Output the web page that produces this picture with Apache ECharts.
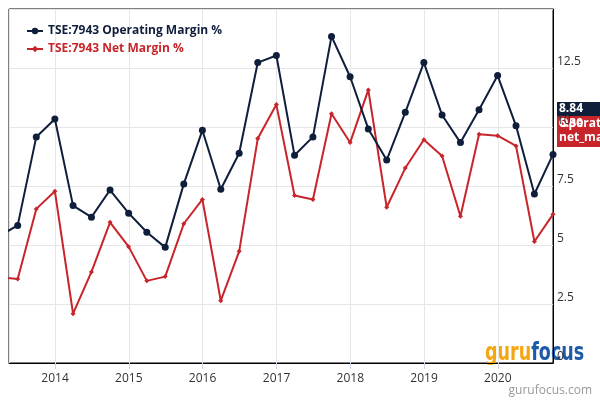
<!DOCTYPE html>
<html><head><meta charset="utf-8">
<script src="https://cdn.jsdelivr.net/npm/echarts@6/dist/echarts.min.js"></script>
<style>html,body{margin:0;padding:0;background:#fff}#c{width:600px;height:400px}</style>
</head><body><div id="c"></div>
<script>
const dates = ['2013-03-31','2013-06-30','2013-09-30','2013-12-31',
'2014-03-31','2014-06-30','2014-09-30','2014-12-31',
'2015-03-31','2015-06-30','2015-09-30','2015-12-31',
'2016-03-31','2016-06-30','2016-09-30','2016-12-31',
'2017-03-31','2017-06-30','2017-09-30','2017-12-31',
'2018-03-31','2018-06-30','2018-09-30','2018-12-31',
'2019-03-31','2019-06-30','2019-09-30','2019-12-31',
'2020-03-31','2020-06-30','2020-09-30'];
const operatingMargin = [5.38,5.83,9.58,10.34,6.67,6.18,7.33,6.35,5.54,4.90,7.59,9.86,7.36,8.89,12.73,13.03,8.80,9.58,13.84,12.13,9.92,8.60,10.62,12.73,10.51,9.34,10.73,12.18,10.05,7.16,8.84];
const netMargin = [3.63,3.56,6.53,7.28,2.09,3.86,5.96,4.93,3.48,3.66,5.90,6.93,2.64,4.73,9.51,10.95,7.10,6.93,10.56,9.34,11.57,6.60,8.26,9.46,8.77,6.22,9.69,9.63,9.20,5.15,6.30];
const seriesNames = ['TSE:7943 Operating Margin %','TSE:7943 Net Margin %'];
const endTags = ['Operating','net_margin'];

const opColor = '#0e1e3b', netColor = '#c7252a';
const chart = echarts.init(document.getElementById('c'));
const pair = (vals) => dates.map((d,i)=>[d, vals[i]]);
const DAY = 24*3600*1000;
chart.setOption({
  animation:false,
  textStyle:{fontFamily:'Open Sans, sans-serif'},
  grid:{left:9,right:47,top:9,bottom:37,show:true,borderColor:'#000',borderWidth:1,backgroundColor:'transparent'},
  legend:{orient:'vertical',left:21,top:20,itemWidth:16,itemHeight:8,itemGap:6,
    textStyle:{fontWeight:'bold',fontSize:12,fontFamily:'Open Sans, sans-serif'},
    data:[{name:seriesNames[0],textStyle:{color:opColor}},{name:seriesNames[1],textStyle:{color:netColor}}]},
  xAxis:{type:'time',min:'2013-05-18',max:'2020-09-30',minInterval:365*DAY,maxInterval:366*DAY,
    axisLine:{lineStyle:{color:'#000',width:1}},
    axisTick:{show:true,length:6,lineStyle:{color:'#ccd6eb'}},
    splitLine:{show:true,lineStyle:{color:'#e6e6e6'}},
    axisLabel:{color:'#333',fontSize:12,margin:10,formatter:'{yyyy}',hideOverlap:false}},
  yAxis:{type:'value',position:'right',min:0,max:15,interval:2.5,
    axisLine:{show:true,lineStyle:{color:'#000'}},axisTick:{show:false},
    splitLine:{lineStyle:{color:'#e6e6e6'}},
    axisLabel:{color:'#333',fontSize:12,margin:4,verticalAlign:'bottom',showMaxLabel:false}},
  series:[
    {name:seriesNames[1],type:'line',data:pair(netMargin),color:netColor,lineStyle:{width:2},
      symbol:'diamond',symbolSize:5,showAllSymbol:true,z:2},
    {name:seriesNames[0],type:'line',data:pair(operatingMargin),color:opColor,lineStyle:{width:2},
      symbol:'circle',symbolSize:7,showAllSymbol:true,z:3}
  ],
  graphic:[
    {type:'rect',left:557,top:102,shape:{width:50,height:14},style:{fill:opColor}},
    {type:'text',left:559,top:103,style:{text:operatingMargin[operatingMargin.length-1].toFixed(2),fill:'#fff',font:'bold 12px Open Sans'}},
    {type:'rect',left:557,top:116,shape:{width:50,height:31},style:{fill:netColor}},
    {type:'text',left:559,top:118,style:{text:netMargin[netMargin.length-1].toFixed(2),fill:'#fff',font:'bold 12px Open Sans'}},
    {type:'text',left:559,top:118,style:{text:endTags[0],fill:'#fff',font:'bold 12px Open Sans'}},
    {type:'text',left:559,top:132,style:{text:endTags[1],fill:'#fff',font:'bold 12px Open Sans'}},
    {type:'text',x:485,y:341,scaleX:0.78,style:{text:'{a|guru}{b|focus}',rich:{a:{fill:'#f5a711',fontSize:25,fontWeight:'bold',fontFamily:'DejaVu Sans Condensed'},b:{fill:'#1f5aa8',fontSize:25,fontWeight:'bold',fontFamily:'DejaVu Sans Condensed'}}}},
    {type:'text',right:8,top:385,style:{text:'gurufocus.com',fill:'#999',font:'12px Open Sans'}}
  ]
});
</script></body></html>
